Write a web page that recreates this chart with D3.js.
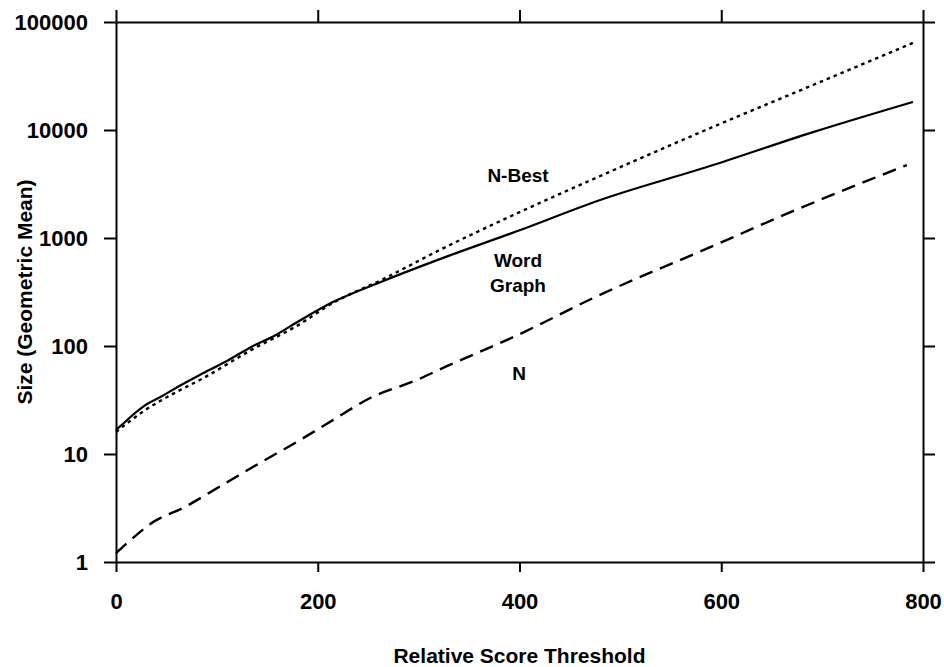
<!DOCTYPE html>
<html>
<head>
<meta charset="utf-8">
<script src="https://cdn.jsdelivr.net/npm/d3@7"></script>
<style>
  html, body { margin: 0; padding: 0; background: #fff; }
  svg { display: block; }
  text { font-family: "Liberation Sans", Arial, Helvetica, sans-serif; font-weight: bold; fill: #000; }
</style>
</head>
<body>
<svg id="chart" width="944" height="667"></svg>
<script>
// ---- data ----
const xTicks = [0, 200, 400, 600, 800];
const yTicks = [1, 10, 100, 1000, 10000, 100000];

const wordGraphX = [0, 9, 19, 29, 44, 61, 83, 108, 136, 158, 179, 215, 265, 331, 398, 480, 592, 691, 790];
const wordGraphY = [16.7, 19.8, 24, 28.4, 33.7, 41.7, 53.9, 71, 100, 126, 165, 255, 400, 690, 1160, 2250, 4740, 9560, 18200];

const nBestX = [0, 29, 61, 83, 136, 179, 215, 265, 321, 398, 480, 592, 691, 790];
const nBestY = [16, 25.5, 38, 48.4, 94, 153, 250, 417, 775, 1700, 3750, 10700, 26100, 64000];

const nX = [0, 9, 24, 31, 70, 106, 143, 179, 215, 252, 298, 328, 398, 473, 600, 655, 784];
const nY = [1.21, 1.44, 1.9, 2.15, 3.3, 5.2, 8.3, 12.9, 20.6, 33, 48.4, 65, 126, 278, 910, 1530, 4740];

const labels = [
  { text: "N-Best", x: 518, y: 182 },
  { text: "Word",   x: 518, y: 267 },
  { text: "Graph",  x: 518, y: 292 },
  { text: "N",      x: 519, y: 380 }
];

// ---- drawing ----
const svg = d3.select("#chart");
const mLeft = 116, mRight = 923, mTop = 22, mBottom = 562;

const x = d3.scaleLinear().domain([0, 800]).range([mLeft, mRight]);
const y = d3.scaleLog().domain([1, 100000]).range([mBottom, mTop]);

const fmt = d => String(d);

// axes
const axL = svg.append("g").attr("transform", `translate(${mLeft},0)`)
  .call(d3.axisLeft(y).tickValues(yTicks).tickFormat(fmt).tickSize(12).tickSizeOuter(0).tickPadding(16));
const axB = svg.append("g").attr("transform", `translate(0,${mBottom})`)
  .call(d3.axisBottom(x).tickValues(xTicks).tickFormat(fmt).tickSize(10).tickSizeOuter(0).tickPadding(21));
const axT = svg.append("g").attr("transform", `translate(0,${mTop})`)
  .call(d3.axisTop(x).tickValues(xTicks).tickFormat("").tickSize(12).tickSizeOuter(0));
const axR = svg.append("g").attr("transform", `translate(${mRight},0)`)
  .call(d3.axisRight(y).tickValues(yTicks).tickFormat("").tickSize(12).tickSizeOuter(0));

[axL, axB, axT, axR].forEach(g => {
  g.selectAll("path.domain").attr("stroke", "#000").attr("stroke-width", 2);
  g.selectAll(".tick line").attr("stroke", "#000").attr("stroke-width", 2);
  g.selectAll(".tick text").attr("font-size", 22).attr("font-family", "Liberation Sans, Arial, sans-serif").attr("font-weight", "bold").attr("fill", "#000");
});

// axis titles
svg.append("text")
  .attr("x", (mLeft + mRight) / 2).attr("y", 663)
  .attr("text-anchor", "middle").attr("font-size", 21)
  .text("Relative Score Threshold");

svg.append("text")
  .attr("transform", `translate(32,${(mTop + mBottom) / 2}) rotate(-90)`)
  .attr("text-anchor", "middle").attr("font-size", 21)
  .text("Size (Geometric Mean)");

// series
const line = d3.line().x(d => x(d[0])).y(d => y(d[1])).curve(d3.curveMonotoneX);
const zip = (a, b) => a.map((v, i) => [v, b[i]]);

svg.append("path").datum(zip(nBestX, nBestY))
  .attr("d", line).attr("fill", "none").attr("stroke", "#000")
  .attr("stroke-width", 2.4).attr("stroke-dasharray", "3.5,4");

svg.append("path").datum(zip(wordGraphX, wordGraphY))
  .attr("d", line).attr("fill", "none").attr("stroke", "#000")
  .attr("stroke-width", 2.2);

svg.append("path").datum(zip(nX, nY))
  .attr("d", line).attr("fill", "none").attr("stroke", "#000")
  .attr("stroke-width", 2.4).attr("stroke-dasharray", "14,8");

// in-plot labels
svg.selectAll("text.lbl").data(labels).enter().append("text")
  .attr("class", "lbl")
  .attr("x", d => d.x).attr("y", d => d.y)
  .attr("text-anchor", "middle").attr("font-size", 19)
  .text(d => d.text);
</script>
</body>
</html>
